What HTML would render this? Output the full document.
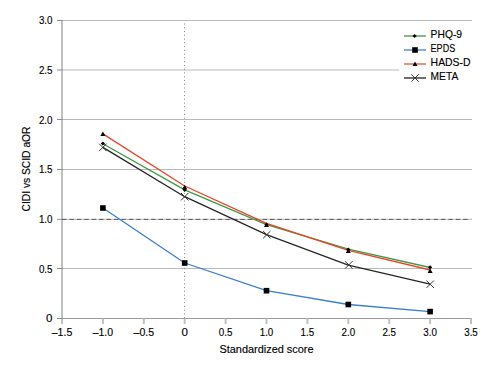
<!DOCTYPE html>
<html><head><meta charset="utf-8"><style>
html,body{margin:0;padding:0;background:#fff;width:498px;height:391px;overflow:hidden}
svg{display:block}
text{font-family:"Liberation Sans", sans-serif;fill:#000;stroke:#000;stroke-width:0.15px}
</style></head><body>
<svg width="498" height="391" viewBox="0 0 498 391">
<rect width="498" height="391" fill="#fff"/>

<line x1="62.0" y1="268.50" x2="472.0" y2="268.50" stroke="#bababa" stroke-width="1"/>
<line x1="62.0" y1="219.30" x2="472.0" y2="219.30" stroke="#bababa" stroke-width="1"/>
<line x1="62.0" y1="169.50" x2="472.0" y2="169.50" stroke="#bababa" stroke-width="1"/>
<line x1="62.0" y1="119.50" x2="472.0" y2="119.50" stroke="#bababa" stroke-width="1"/>
<line x1="62.0" y1="70.00" x2="472.0" y2="70.00" stroke="#bababa" stroke-width="1"/>
<line x1="62.0" y1="20.50" x2="472.0" y2="20.50" stroke="#bababa" stroke-width="1"/>
<line x1="57" y1="318.50" x2="472.0" y2="318.50" stroke="#9a9a9a" stroke-width="1"/>
<line x1="62.00" y1="318.50" x2="62.00" y2="324.00" stroke="#c0c0c0" stroke-width="2"/>
<line x1="102.90" y1="318.50" x2="102.90" y2="324.00" stroke="#c0c0c0" stroke-width="2"/>
<line x1="143.80" y1="318.50" x2="143.80" y2="324.00" stroke="#c0c0c0" stroke-width="2"/>
<line x1="184.70" y1="318.50" x2="184.70" y2="324.00" stroke="#c0c0c0" stroke-width="2"/>
<line x1="225.60" y1="318.50" x2="225.60" y2="324.00" stroke="#c0c0c0" stroke-width="2"/>
<line x1="266.50" y1="318.50" x2="266.50" y2="324.00" stroke="#c0c0c0" stroke-width="2"/>
<line x1="307.40" y1="318.50" x2="307.40" y2="324.00" stroke="#c0c0c0" stroke-width="2"/>
<line x1="348.30" y1="318.50" x2="348.30" y2="324.00" stroke="#c0c0c0" stroke-width="2"/>
<line x1="389.20" y1="318.50" x2="389.20" y2="324.00" stroke="#c0c0c0" stroke-width="2"/>
<line x1="430.10" y1="318.50" x2="430.10" y2="324.00" stroke="#c0c0c0" stroke-width="2"/>
<line x1="471.00" y1="318.50" x2="471.00" y2="324.00" stroke="#c0c0c0" stroke-width="2"/>
<line x1="62.00" y1="20.01" x2="62.00" y2="324.00" stroke="#c0c0c0" stroke-width="2"/>
<line x1="57" y1="318.50" x2="63.0" y2="318.50" stroke="#8e8e8e" stroke-width="1"/>
<line x1="57" y1="268.50" x2="63.0" y2="268.50" stroke="#8e8e8e" stroke-width="1"/>
<line x1="57" y1="219.30" x2="63.0" y2="219.30" stroke="#8e8e8e" stroke-width="1"/>
<line x1="57" y1="169.50" x2="63.0" y2="169.50" stroke="#8e8e8e" stroke-width="1"/>
<line x1="57" y1="119.50" x2="63.0" y2="119.50" stroke="#8e8e8e" stroke-width="1"/>
<line x1="57" y1="70.00" x2="63.0" y2="70.00" stroke="#8e8e8e" stroke-width="1"/>
<line x1="57" y1="20.50" x2="63.0" y2="20.50" stroke="#8e8e8e" stroke-width="1"/>
<line x1="62.0" y1="219.4" x2="468.0" y2="219.4" stroke="#5a5a5a" stroke-width="1" stroke-dasharray="4.4 3.03"/>
<line x1="184.50" y1="23.5" x2="184.50" y2="318.50" stroke="#858585" stroke-width="1" stroke-dasharray="1 2.765"/>
<polyline points="102.90,147.40 184.70,196.70 266.50,234.70 348.30,265.20 430.10,284.20" fill="none" stroke="#262626" stroke-width="1.3" stroke-linejoin="round"/>
<polyline points="102.90,208.00 184.70,263.00 266.50,290.70 348.30,304.50 430.10,311.60" fill="none" stroke="#3a7fcc" stroke-width="1.3" stroke-linejoin="round"/>
<polyline points="102.90,143.80 184.70,189.90 266.50,224.70 348.30,249.20 430.10,267.50" fill="none" stroke="#3f9a45" stroke-width="1.3" stroke-linejoin="round"/>
<polyline points="102.90,133.90 184.70,186.00 266.50,223.40 348.30,250.40 430.10,270.00" fill="none" stroke="#e8442a" stroke-width="1.3" stroke-linejoin="round"/>
<path d="M99.10 143.70L106.50 151.10M99.10 151.10L106.50 143.70" stroke="#333" stroke-width="1" fill="none"/>
<path d="M181.00 193.00L188.40 200.40M181.00 200.40L188.40 193.00" stroke="#333" stroke-width="1" fill="none"/>
<path d="M263.10 231.00L270.50 238.40M263.10 238.40L270.50 231.00" stroke="#333" stroke-width="1" fill="none"/>
<path d="M345.10 261.20L352.50 268.60M345.10 268.60L352.50 261.20" stroke="#333" stroke-width="1" fill="none"/>
<path d="M426.50 280.50L433.90 287.90M426.50 287.90L433.90 280.50" stroke="#333" stroke-width="1" fill="none"/>
<rect x="100.10" y="205.20" width="5.60" height="5.60" fill="#000"/>
<rect x="181.90" y="260.20" width="5.60" height="5.60" fill="#000"/>
<rect x="263.70" y="287.90" width="5.60" height="5.60" fill="#000"/>
<rect x="345.50" y="301.70" width="5.60" height="5.60" fill="#000"/>
<rect x="427.30" y="308.80" width="5.60" height="5.60" fill="#000"/>
<path d="M102.90 141.40L105.00 143.50L102.90 145.60L100.80 143.50Z" fill="#000"/>
<path d="M184.70 187.70L186.80 189.80L184.70 191.90L182.60 189.80Z" fill="#000"/>
<path d="M266.50 222.40L268.60 224.50L266.50 226.60L264.40 224.50Z" fill="#000"/>
<path d="M348.30 247.40L350.40 249.50L348.30 251.60L346.20 249.50Z" fill="#000"/>
<path d="M430.10 265.20L432.20 267.30L430.10 269.40L428.00 267.30Z" fill="#000"/>
<path d="M102.90 131.60L105.40 136.00L100.40 136.00Z" fill="#000"/>
<path d="M184.70 184.80L187.20 189.20L182.20 189.20Z" fill="#000"/>
<path d="M266.50 222.50L269.00 226.90L264.00 226.90Z" fill="#000"/>
<path d="M348.30 248.60L350.80 253.00L345.80 253.00Z" fill="#000"/>
<path d="M430.10 268.60L432.60 273.00L427.60 273.00Z" fill="#000"/>
<text x="52.50" y="322.40" font-size="11.5" text-anchor="end">0</text>
<text x="52.50" y="272.73" font-size="11.5" text-anchor="end" textLength="13.6" lengthAdjust="spacingAndGlyphs">0.5</text>
<text x="52.50" y="223.07" font-size="11.5" text-anchor="end" textLength="13.6" lengthAdjust="spacingAndGlyphs">1.0</text>
<text x="52.50" y="173.41" font-size="11.5" text-anchor="end" textLength="13.6" lengthAdjust="spacingAndGlyphs">1.5</text>
<text x="52.50" y="123.74" font-size="11.5" text-anchor="end" textLength="13.6" lengthAdjust="spacingAndGlyphs">2.0</text>
<text x="52.50" y="74.08" font-size="11.5" text-anchor="end" textLength="13.6" lengthAdjust="spacingAndGlyphs">2.5</text>
<text x="52.50" y="24.41" font-size="11.5" text-anchor="end" textLength="13.6" lengthAdjust="spacingAndGlyphs">3.0</text>
<text x="62.00" y="336.20" font-size="11.5" text-anchor="middle" textLength="20.5" lengthAdjust="spacingAndGlyphs">–1.5</text>
<text x="102.90" y="336.20" font-size="11.5" text-anchor="middle" textLength="20.5" lengthAdjust="spacingAndGlyphs">–1.0</text>
<text x="143.80" y="336.20" font-size="11.5" text-anchor="middle" textLength="20.5" lengthAdjust="spacingAndGlyphs">–0.5</text>
<text x="184.70" y="336.20" font-size="11.5" text-anchor="middle">0</text>
<text x="225.60" y="336.20" font-size="11.5" text-anchor="middle" textLength="13.6" lengthAdjust="spacingAndGlyphs">0.5</text>
<text x="266.50" y="336.20" font-size="11.5" text-anchor="middle" textLength="13.6" lengthAdjust="spacingAndGlyphs">1.0</text>
<text x="307.40" y="336.20" font-size="11.5" text-anchor="middle" textLength="13.6" lengthAdjust="spacingAndGlyphs">1.5</text>
<text x="348.30" y="336.20" font-size="11.5" text-anchor="middle" textLength="13.6" lengthAdjust="spacingAndGlyphs">2.0</text>
<text x="389.20" y="336.20" font-size="11.5" text-anchor="middle" textLength="13.6" lengthAdjust="spacingAndGlyphs">2.5</text>
<text x="430.10" y="336.20" font-size="11.5" text-anchor="middle" textLength="13.6" lengthAdjust="spacingAndGlyphs">3.0</text>
<text x="471.00" y="336.20" font-size="11.5" text-anchor="middle" textLength="13.6" lengthAdjust="spacingAndGlyphs">3.5</text>
<text x="266.50" y="352.90" font-size="11.5" text-anchor="middle" textLength="94" lengthAdjust="spacingAndGlyphs">Standardized score</text>
<text transform="translate(30.0 169) rotate(-90)" x="0" y="0" font-size="11.3" text-anchor="middle" textLength="85" lengthAdjust="spacingAndGlyphs">CIDI vs SCID aOR</text>
<rect x="399.2" y="24" width="90" height="90" fill="#fff"/>
<line x1="404" y1="36.00" x2="426" y2="36.00" stroke="#86b983" stroke-width="2"/>
<path d="M414.60 33.90L416.70 36.00L414.60 38.10L412.50 36.00Z" fill="#000"/>
<text x="430.60" y="37.90" font-size="11.5" text-anchor="start" textLength="31.5" lengthAdjust="spacingAndGlyphs">PHQ-9</text>
<line x1="404" y1="50.00" x2="426" y2="50.00" stroke="#86acea" stroke-width="2"/>
<rect x="412.20" y="47.20" width="5.60" height="5.60" fill="#000"/>
<text x="430.60" y="51.80" font-size="11.5" text-anchor="start" textLength="24.6" lengthAdjust="spacingAndGlyphs">EPDS</text>
<line x1="404" y1="64.00" x2="426" y2="64.00" stroke="#f0907a" stroke-width="2"/>
<path d="M415.00 61.50L417.50 65.90L412.50 65.90Z" fill="#000"/>
<text x="430.60" y="65.70" font-size="11.5" text-anchor="start" textLength="40" lengthAdjust="spacingAndGlyphs">HADS-D</text>
<line x1="404" y1="78.00" x2="426" y2="78.00" stroke="#4a4a4a" stroke-width="1.6"/>
<path d="M411.30 74.30L418.70 81.70M411.30 81.70L418.70 74.30" stroke="#333" stroke-width="1" fill="none"/>
<text x="430.60" y="79.60" font-size="11.5" text-anchor="start" textLength="27.6" lengthAdjust="spacingAndGlyphs">META</text>
</svg>
</body></html>
